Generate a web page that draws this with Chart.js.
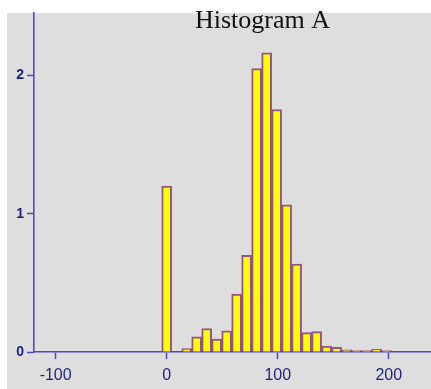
<!DOCTYPE html>
<html>
<head>
<meta charset="utf-8">
<script src="https://cdn.jsdelivr.net/npm/chart.js@4/dist/chart.umd.min.js"></script>
<style>
  html, body { margin: 0; padding: 0; background: #ffffff; }
  #wrap { position: relative; width: 431px; height: 389px; overflow: hidden; }
  #bg { position: absolute; left: 7px; top: 13px; right: 0; bottom: 0; background: #dedede; }
  #c { position: absolute; left: 0; top: 0; }
</style>
</head>
<body>
<div id="wrap">
  <div id="bg"></div>
  <canvas id="c" width="431" height="389"></canvas>
</div>
<script>
// ---- data ----
const chartTitle = "Histogram A";
const binCenters = [0, 18, 27, 36, 45, 54, 63, 72, 81, 90, 99, 108, 117, 126, 135, 144, 153, 162, 171, 180, 189, 198];
const densities  = [1.20, 0.024, 0.11, 0.17, 0.094, 0.154, 0.42, 0.70, 2.05, 2.165, 1.755, 1.065, 0.637, 0.14, 0.147, 0.043, 0.034, 0.015, 0.01, 0.01, 0.02, 0.01];
const xTickValues = [-100, 0, 100, 200];
const yTickValues = [0, 1, 2];

const axisColor = '#4b4bbf';
const labelColor = '#1e1e86';

const titlePlugin = {
  id: 'overlayTitle',
  afterDraw(chart) {
    const ctx = chart.ctx;
    ctx.save();
    ctx.font = '26px "Liberation Serif"';
    ctx.fillStyle = '#111111';
    ctx.textAlign = 'center';
    ctx.textBaseline = 'alphabetic';
    ctx.fillText(chartTitle, 262.5, 28);
    ctx.restore();
  }
};

new Chart(document.getElementById('c'), {
  type: 'bar',
  data: {
    datasets: [{
      data: binCenters.map((x, i) => ({ x: x, y: densities[i] })),
      backgroundColor: '#ffff00',
      borderColor: 'rgba(140, 60, 120, 0.85)',
      borderWidth: 2,
      barPercentage: 1,
      categoryPercentage: 1
    }]
  },
  options: {
    responsive: false,
    animation: false,
    devicePixelRatio: 1,
    layout: { padding: { top: 13, left: 0, right: 0, bottom: 0 } },
    plugins: { legend: { display: false }, tooltip: { enabled: false }, title: { display: false } },
    scales: {
      x: {
        type: 'linear',
        min: -119.5,
        max: 238,
        offset: false,
        grid: { offset: false, drawOnChartArea: false, drawTicks: true, tickLength: 7, tickColor: axisColor, tickWidth: 1.5 },
        border: { display: true, color: axisColor, width: 1.6 },
        ticks: {
          includeBounds: false,
          color: labelColor,
          padding: 7,
          maxRotation: 0,
          font: { family: '"Liberation Sans"', size: 16 }
        },
        afterBuildTicks: s => { s.ticks = xTickValues.map(v => ({ value: v })); },
        afterFit: s => { s.height = 37; }
      },
      y: {
        type: 'linear',
        min: 0,
        max: 2.453,
        grid: { drawOnChartArea: false, drawTicks: true, tickLength: 7, tickColor: axisColor, tickWidth: 1.5 },
        border: { display: true, color: axisColor, width: 1.6 },
        ticks: {
          includeBounds: false,
          color: labelColor,
          padding: 3,
          font: { family: '"Liberation Sans"', size: 14, weight: 'bold' }
        },
        afterBuildTicks: s => { s.ticks = yTickValues.map(v => ({ value: v })); },
        afterFit: s => { s.width = 34; }
      }
    }
  },
  plugins: [titlePlugin]
});
</script>
</body>
</html>
